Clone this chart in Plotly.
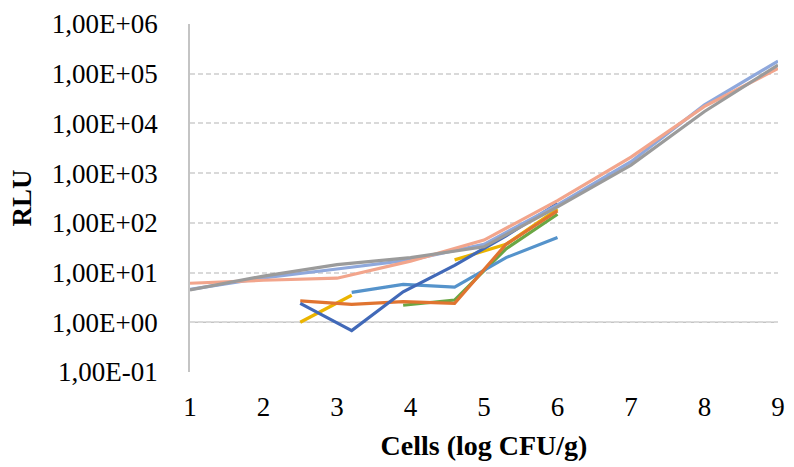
import plotly.graph_objects as go

# Cell concentration (log CFU/g)
x_full = [1, 2, 3, 4, 5, 6, 7, 8, 9]
x_dil = [2.5, 3.2, 3.9, 4.6, 5.3, 6.0]

# RLU readings, full-range series
rlu_periwinkle = [4.6, 7.8, 11.8, 18, 37, 230, 1700, 23600, 180000]
rlu_salmon = [6.1, 7.0, 7.7, 17, 45, 280, 2100, 22000, 128000]
rlu_gray = [4.5, 8.5, 14.5, 20, 33, 210, 1450, 17400, 149000]

# RLU readings, dilution series (None = no reading)
rlu_darkblue = [2.4, 0.68, 4.1, 14, 55, 245]
rlu_orange = [2.7, 2.3, 2.6, 2.4, 37, 174]
rlu_yellow = [1.0, 3.5, None, 18, 37, 190]
rlu_midblue = [None, 4.0, 5.8, 5.1, 20, 51]
rlu_green = [None, None, 2.2, 2.8, 30, 149]

y_ticks = [0.1, 1, 10, 100, 1000, 10000, 100000, 1000000]
y_ticktext = ["1,00E-01", "1,00E+00", "1,00E+01", "1,00E+02",
              "1,00E+03", "1,00E+04", "1,00E+05", "1,00E+06"]
x_ticks = [1, 2, 3, 4, 5, 6, 7, 8, 9]

Y_LOG_RANGE = [-1, 6]
FONT = "Liberation Serif, Times New Roman, serif"

series = [
    (x_dil, rlu_green, "#6AA744"),
    (x_dil, rlu_yellow, "#EBB400"),
    (x_dil, rlu_midblue, "#5593CB"),
    (x_dil, rlu_orange, "#E07430"),
    (x_dil, rlu_darkblue, "#4169B8"),
    (x_full, rlu_periwinkle, "#8FA8DC"),
    (x_full, rlu_salmon, "#F2A58C"),
    (x_full, rlu_gray, "#9B9B9B"),
]

fig = go.Figure()
for xs, ys, col in series:
    fig.add_trace(go.Scatter(
        x=xs, y=ys, mode="lines",
        line=dict(color=col, width=3.2),
        connectgaps=False, showlegend=False, hoverinfo="x+y",
    ))

# Horizontal axis crosses the value axis at 1
cross_frac = (0 - Y_LOG_RANGE[0]) / (Y_LOG_RANGE[1] - Y_LOG_RANGE[0])
fig.add_shape(type="line", xref="paper", yref="paper",
              x0=0, x1=1, y0=cross_frac, y1=cross_frac,
              line=dict(color="#C4C4C4", width=1.5), layer="below")

fig.update_layout(
    width=794, height=467,
    margin=dict(l=190, r=9, t=22, b=95),
    paper_bgcolor="white", plot_bgcolor="white",
    font=dict(family=FONT, size=27, color="black"),
    xaxis=dict(
        range=[1, 9], tickvals=x_ticks, showgrid=False, zeroline=False,
        showline=False, ticks="", ticklabelstandoff=16,
        tickfont=dict(family=FONT, size=27),
        title=dict(text="<b>Cells (log CFU/g)</b>", standoff=14,
                   font=dict(family=FONT, size=28)),
    ),
    yaxis=dict(
        type="log", range=Y_LOG_RANGE, tickvals=y_ticks, ticktext=y_ticktext,
        showgrid=True, gridcolor="#D9D9D9", gridwidth=1.5, griddash="5px,3px",
        showline=True, linecolor="#C4C4C4", linewidth=1.5,
        zeroline=False, ticks="", ticklabelstandoff=25,
        tickfont=dict(family=FONT, size=27),
        title=dict(text="<b>RLU</b>", standoff=12,
                   font=dict(family=FONT, size=27)),
    ),
)

fig.write_html("out.html")
